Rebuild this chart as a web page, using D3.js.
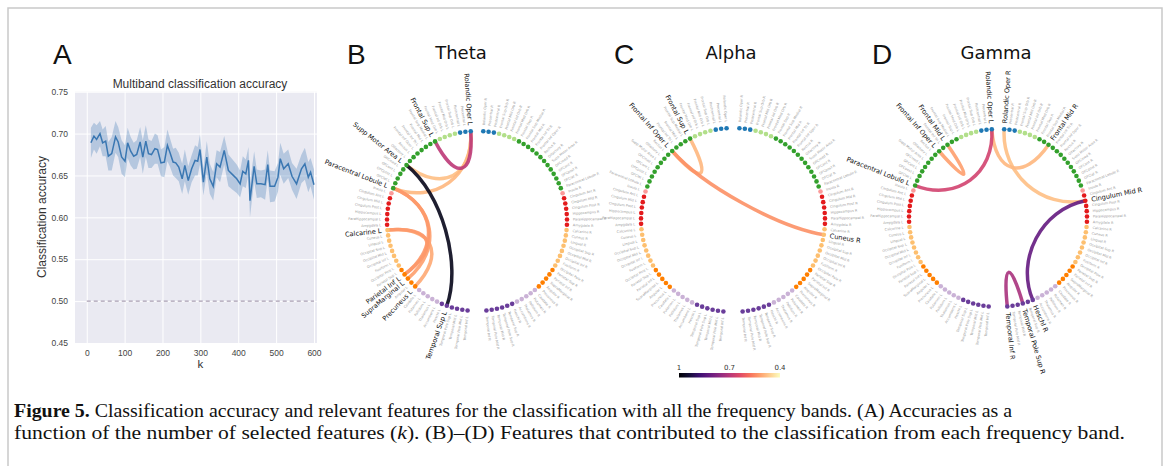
<!DOCTYPE html>
<html>
<head>
<meta charset="utf-8">
<script src="https://cdn.jsdelivr.net/npm/d3@7"></script>
<style>
  body { margin: 0; background: #fff; }
  svg { display: block; }
</style>
</head>
<body>
<svg id="fig" width="1167" height="466"></svg>
<script>
// ---- panel A data ----
const kValues = [11,19,26,35,42,50,57,66,76,83,92,101,108,116,124,132,141,148,156,163,
  171,180,187,196,205,213,220,228,235,243,252,259,268,277,286,293,299,308,317,325,
  334,343,352,363,374,385,396,405,412,420,427,431,442,449,460,471,478,484,496,505,
  511,520,532,542,554,567,576,585,591,600];
const accMean = [0.689,0.697,0.693,0.700,0.689,0.691,0.673,0.676,0.696,0.690,
  0.672,0.667,0.689,0.679,0.673,0.675,0.690,0.672,0.691,0.676,
  0.675,0.682,0.681,0.665,0.666,0.686,0.677,0.666,0.665,0.660,
  0.646,0.662,0.644,0.658,0.668,0.667,0.681,0.642,0.672,0.646,
  0.637,0.664,0.660,0.680,0.656,0.651,0.646,0.640,0.655,0.652,
  0.668,0.620,0.661,0.640,0.640,0.639,0.663,0.637,0.637,0.648,
  0.670,0.658,0.664,0.649,0.640,0.658,0.664,0.648,0.654,0.639];
const accCi = [0.018,0.016,0.017,0.015,0.016,0.018,0.017,0.020,0.019,0.018,
  0.020,0.019,0.018,0.017,0.016,0.017,0.018,0.020,0.019,0.017,
  0.016,0.018,0.017,0.016,0.018,0.019,0.017,0.016,0.018,0.017,
  0.018,0.019,0.017,0.016,0.018,0.017,0.018,0.016,0.019,0.018,
  0.017,0.016,0.018,0.017,0.019,0.018,0.017,0.016,0.018,0.017,
  0.016,0.020,0.018,0.017,0.016,0.018,0.017,0.019,0.018,0.017,
  0.019,0.018,0.017,0.016,0.018,0.017,0.019,0.018,0.017,0.018];
const xTicks = [0,100,200,300,400,500,600];
const yTicks = [0.45,0.50,0.55,0.60,0.65,0.70,0.75];
const chanceLevel = 0.5;

// ---- circle plots ----
const regionNames = ["Rolandic Oper","Precentral","Postcentral",
  "Frontal Sup Orb","Frontal Mid Orb","Frontal Inf Orb","Frontal Med Orb",
  "Frontal Sup","Frontal Sup Medial","Frontal Mid","Frontal Inf Tri","Frontal Inf Oper","Rectus","Olfactory",
  "Supp Motor Area","OFCmed","OFCant","OFCpost","OFClat","Paracentral Lobule",
  "Insula",
  "Cingulum Ant","Cingulum Mid","Cingulum Post","Hippocampus","ParaHippocampal","Amygdala",
  "Calcarine","Cuneus","Lingual","Occipital Sup","Occipital Mid","Occipital Inf","Fusiform","Occipital Pole",
  "Parietal Sup","Parietal Inf","SupraMarginal","Angular","Precuneus",
  "Caudate","Putamen","Pallidum","Thalamus","Accumbens",
  "Heschl","Temporal Sup","Temporal Pole Sup","Temporal Mid","Temporal Pole Mid","Temporal Inf"];
const groupSizes = [3,4,13,1,6,8,5,5,6];
const groupColors = ["#1f78b4","#b2df8a","#33a02c","#fb9a99","#e31a1c","#fdbf6f","#ff7f00","#cab2d6","#6a3d9a"];

const thetaLinks = [
  ["Rolandic Oper L","Frontal Sup L",0.69],
  ["Rolandic Oper L","Paracentral Lobule L",0.49],
  ["Rolandic Oper L","Supp Motor Area L",0.48],
  ["Paracentral Lobule L","Parietal Inf L",0.53],
  ["Paracentral Lobule L","SupraMarginal L",0.52],
  ["Calcarine L","Parietal Inf L",0.53],
  ["Calcarine L","Precuneus L",0.51],
  ["Supp Motor Area L","Temporal Sup L",0.97]
];
const alphaLinks = [
  ["Frontal Sup L","Frontal Inf Oper L",0.49],
  ["Frontal Inf Oper L","Cuneus R",0.54]
];
const gammaLinks = [
  ["Rolandic Oper L","Paracentral Lobule L",0.66],
  ["Frontal Mid L","Frontal Inf Oper L",0.52],
  ["Rolandic Oper L","Frontal Mid R",0.49],
  ["Rolandic Oper R","Cingulum Mid R",0.48],
  ["Cingulum Mid R","Heschl R",0.82],
  ["Temporal Pole Sup R","Temporal Inf R",0.72]
];
const colorbarTicks = [1, 0.7, 0.4];

const svg = d3.select("#fig");

// frame
svg.append("rect").attr("x", 8).attr("y", 8).attr("width", 1154).attr("height", 520)
  .attr("fill", "none").attr("stroke", "#c9c9c9").attr("stroke-width", 1.5);

// ================= panel A =================
const x = d3.scaleLinear().domain([-31, 608]).range([75, 317]);
const y = d3.scaleLinear().domain([0.45, 0.75]).range([343, 91.7]);

const gA = svg.append("g");
gA.append("rect").attr("x", x.range()[0]).attr("y", y.range()[1])
  .attr("width", x.range()[1] - x.range()[0]).attr("height", y.range()[0] - y.range()[1])
  .attr("fill", "#eaeaf2");

gA.append("g").attr("transform", "translate(0," + y.range()[0] + ")")
  .call(d3.axisBottom(x).tickValues(xTicks).tickSize(-(y.range()[0] - y.range()[1])).tickPadding(7).tickFormat(d3.format("d")))
  .call(g => g.select(".domain").remove())
  .call(g => g.selectAll("line").attr("stroke", "#fff").attr("stroke-width", 1))
  .call(g => g.selectAll("text").attr("fill", "#444").attr("font-size", 8.5).attr("font-family", "Liberation Sans, Arial, sans-serif"));

gA.append("g").attr("transform", "translate(" + x.range()[0] + ",0)")
  .call(d3.axisLeft(y).tickValues(yTicks).tickSize(-(x.range()[1] - x.range()[0])).tickPadding(7).tickFormat(d3.format(".2f")))
  .call(g => g.select(".domain").remove())
  .call(g => g.selectAll("line").attr("stroke", "#fff").attr("stroke-width", 1))
  .call(g => g.selectAll("text").attr("fill", "#444").attr("font-size", 8.5).attr("font-family", "Liberation Sans, Arial, sans-serif"));

const accData = kValues.map((k, i) => ({ k: k, m: accMean[i], c: accCi[i] }));

gA.append("path").datum(accData)
  .attr("fill", "#3a77b2").attr("fill-opacity", 0.3)
  .attr("d", d3.area().x(d => x(d.k)).y0(d => y(d.m - d.c)).y1(d => y(d.m + d.c)));

gA.append("path").datum(accData)
  .attr("fill", "none").attr("stroke", "#3a77b2").attr("stroke-width", 1.5)
  .attr("d", d3.line().x(d => x(d.k)).y(d => y(d.m)));

gA.append("line").attr("x1", x(0)).attr("x2", x(600)).attr("y1", y(chanceLevel)).attr("y2", y(chanceLevel))
  .attr("stroke", "#a99fb3").attr("stroke-width", 1.3).attr("stroke-dasharray", "4,3");

gA.append("text").attr("x", (x.range()[0] + x.range()[1]) / 2 + 4).attr("y", 87.5)
  .attr("text-anchor", "middle").attr("font-family", "Liberation Sans, Arial, sans-serif")
  .attr("font-size", 12).attr("fill", "#333").text("Multiband classification accuracy");

gA.append("text").attr("transform", "translate(45.5,217) rotate(-90)")
  .attr("text-anchor", "middle").attr("font-family", "Liberation Sans, Arial, sans-serif")
  .attr("font-size", 12).attr("fill", "#333").text("Classification accuracy");

gA.append("text").attr("x", x(300)).attr("y", 368)
  .attr("text-anchor", "middle").attr("font-family", "Liberation Sans, Arial, sans-serif")
  .attr("font-size", 11.5).attr("fill", "#333").text("k");

// panel letters
const letters = [["A", 53], ["B", 347], ["C", 614], ["D", 872]];
letters.forEach(l => svg.append("text").attr("x", l[1]).attr("y", 63.5)
  .attr("font-family", "Liberation Sans, Arial, sans-serif").attr("font-size", 28).attr("fill", "#111").text(l[0]));

// ================= circle panels =================
const angleScale = d3.scaleLinear().domain([0, regionNames.length - 1]).range([4, 174]);
const cmap = d3.scaleSequential(d3.interpolateMagma).domain([1, 0.4]);

const groupOf = [];
groupSizes.forEach((n, g) => { for (let i = 0; i < n; i++) groupOf.push(g); });

const nodes = [];
["L", "R"].forEach(h => {
  regionNames.forEach((name, i) => {
    const a = angleScale(i);
    nodes.push({ name: name + " " + h, angle: h === "R" ? a : -a, color: groupColors[groupOf[i]] });
  });
});
const nodeByName = new Map(nodes.map(n => [n.name, n]));

function drawCircle(cfg) {
  const g = svg.append("g");
  const pt = (deg, rad) => {
    const a = deg * Math.PI / 180;
    return [cfg.cx + rad * Math.sin(a), cfg.cy - rad * Math.cos(a)];
  };
  g.append("text").attr("x", cfg.titleX).attr("y", 59).attr("text-anchor", "middle")
    .attr("font-family", "DejaVu Sans, sans-serif").attr("font-size", 18).attr("fill", "#111").text(cfg.title);

  const hl = new Set();
  cfg.links.forEach(l => { hl.add(l[0]); hl.add(l[1]); });

  // labels
  g.selectAll("text.lab").data(nodes).enter().append("text")
    .attr("class", "lab")
    .attr("transform", d => {
      const p = pt(d.angle, cfg.r + 6);
      const rot = d.angle >= 0 ? d.angle - 90 : d.angle + 90;
      return "translate(" + p[0] + "," + p[1] + ") rotate(" + rot + ")";
    })
    .attr("text-anchor", d => d.angle >= 0 ? "start" : "end")
    .attr("dy", "0.35em")
    .attr("font-family", "DejaVu Sans, sans-serif")
    .attr("font-size", d => hl.has(d.name) ? 6.6 : 3.4)
    .attr("fill", d => hl.has(d.name) ? "#111" : "#9a9a9a")
    .text(d => d.name);

  // chords, weakest first
  const links = cfg.links.slice().sort((a, b) => a[2] - b[2]);
  g.selectAll("path.chord").data(links).enter().append("path")
    .attr("class", "chord")
    .attr("fill", "none")
    .attr("stroke", d => cmap(d[2]))
    .attr("stroke-opacity", 0.9)
    .attr("stroke-width", 3.5)
    .attr("d", d => {
      const a0 = nodeByName.get(d[0]).angle, a1 = nodeByName.get(d[1]).angle;
      const p0 = pt(a0, cfg.r), c0 = pt(a0, cfg.r / 2), c1 = pt(a1, cfg.r / 2), p1 = pt(a1, cfg.r);
      const p = d3.path();
      p.moveTo(p0[0], p0[1]);
      p.bezierCurveTo(c0[0], c0[1], c1[0], c1[1], p1[0], p1[1]);
      return p.toString();
    });

  g.selectAll("circle.node").data(nodes).enter().append("circle")
    .attr("class", "node")
    .attr("cx", d => pt(d.angle, cfg.r)[0])
    .attr("cy", d => pt(d.angle, cfg.r)[1])
    .attr("r", 2.3)
    .attr("fill", d => d.color);
}

drawCircle({ title: "Theta", titleX: 461, cx: 477, cy: 221, r: 90, links: thetaLinks });
drawCircle({ title: "Alpha", titleX: 731, cx: 733, cy: 220, r: 92, links: alphaLinks });
drawCircle({ title: "Gamma", titleX: 996, cx: 998, cy: 218, r: 89, links: gammaLinks });

// colorbar
const cb = d3.scaleLinear().domain([1, 0.4]).range([679, 780]);
const grad = svg.append("defs").append("linearGradient").attr("id", "magma");
d3.range(0, 1.0001, 0.1).forEach(t => grad.append("stop")
  .attr("offset", t).attr("stop-color", cmap(1 - t * 0.6)));
svg.append("rect").attr("x", cb.range()[0]).attr("y", 373).attr("width", cb.range()[1] - cb.range()[0])
  .attr("height", 4.5).attr("fill", "url(#magma)");
svg.selectAll("text.cbt").data(colorbarTicks).enter().append("text")
  .attr("class", "cbt").attr("x", d => cb(d)).attr("y", 369.5).attr("text-anchor", "middle")
  .attr("font-family", "DejaVu Sans, sans-serif").attr("font-size", 7).attr("fill", "#333")
  .text(d => d);

// caption
const cap1 = svg.append("text").attr("x", 14).attr("y", 417)
  .attr("font-family", "Liberation Serif, serif").attr("font-size", 18.5).attr("fill", "#111")
  .attr("textLength", 998).attr("lengthAdjust", "spacingAndGlyphs");
cap1.append("tspan").attr("font-weight", "bold").text("Figure 5.");
cap1.append("tspan").text(" Classification accuracy and relevant features for the classification with all the frequency bands. (A) Accuracies as a");

const cap2 = svg.append("text").attr("x", 14).attr("y", 439)
  .attr("font-family", "Liberation Serif, serif").attr("font-size", 18.5).attr("fill", "#111")
  .attr("textLength", 1111).attr("lengthAdjust", "spacingAndGlyphs");
cap2.append("tspan").text("function of the number of selected features (");
cap2.append("tspan").attr("font-style", "italic").text("k");
cap2.append("tspan").text("). (B)\u2013(D) Features that contributed to the classification from each frequency band.");
</script>
</body>
</html>
